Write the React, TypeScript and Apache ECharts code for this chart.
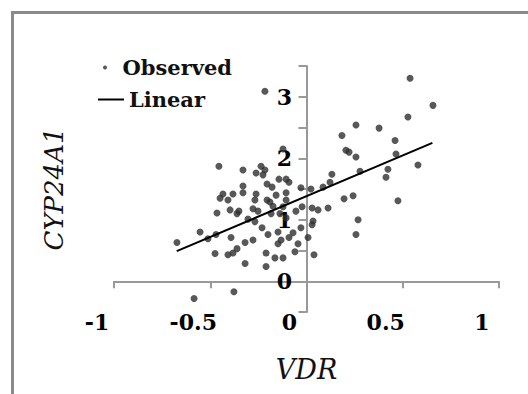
import React, { useEffect, useRef } from "react";
import * as echarts from "echarts";

const observedX: number[] = [
  -0.216, 0.538, 0.657, 0.527, 0.257, 0.377, 0.184, 0.46, -0.122, 0.205,
  0.221, 0.257, 0.465, -0.455, -0.33, -0.236, -0.216, -0.262, -0.226, 0.132,
  0.278, 0.579, 0.423, 0.413, 0.122, 0.086, -0.143, -0.106, -0.091, -0.33,
  -0.205, -0.179, -0.029, 0.023, -0.106, -0.434, -0.382, -0.33, -0.262, -0.158,
  0.242, 0.195, -0.449, -0.408, -0.268, -0.205, -0.19, -0.106, 0.475, -0.397,
  -0.351, -0.278, -0.252, -0.465, -0.361, -0.174, -0.122, -0.184, -0.055, -0.023,
  0.029, 0.06, 0.112, -0.138, -0.106, -0.304, -0.268, 0.034, 0.029, 0.268,
  -0.231, -0.553, -0.47, -0.512, -0.392, -0.278, -0.319, -0.2, -0.148, -0.091,
  -0.07, -0.029, 0.008, -0.132, -0.148, -0.044, 0.257, -0.673, -0.361, -0.382,
  -0.408, -0.475, -0.21, -0.06, 0.039, -0.164, -0.122, -0.319, -0.21, -0.377,
  -0.584,
];
const observedY: number[] = [
  3.09, 3.3, 2.86, 2.67, 2.54, 2.49, 2.37, 2.29, 2.15, 2.13,
  2.1, 2.02, 2.07, 1.87, 1.81, 1.87, 1.81, 1.76, 1.73, 1.74,
  1.79, 1.89, 1.82, 1.69, 1.61, 1.53, 1.66, 1.66, 1.61, 1.55,
  1.58, 1.53, 1.52, 1.5, 1.44, 1.42, 1.42, 1.44, 1.42, 1.4,
  1.39, 1.34, 1.35, 1.32, 1.32, 1.32, 1.29, 1.32, 1.31, 1.16,
  1.14, 1.18, 1.14, 1.11, 1.1, 1.22, 1.21, 1.1, 1.14, 1.21,
  1.19, 1.16, 1.19, 1.1, 1.03, 1.01, 0.97, 0.98, 0.92, 1.0,
  0.87, 0.8, 0.76, 0.69, 0.71, 0.67, 0.63, 0.76, 0.8, 0.71,
  0.79, 0.87, 0.71, 0.67, 0.61, 0.61, 0.76, 0.63, 0.53, 0.46,
  0.43, 0.45, 0.46, 0.48, 0.43, 0.38, 0.38, 0.29, 0.24, -0.17,
  -0.28,
];
const linearX: number[] = [-0.674, 0.654];
const linearY: number[] = [0.49, 2.25];
const yTickLabels: number[] = [0, 1, 2, 3];

export default function App() {
  const ref = useRef<HTMLDivElement>(null);
  useEffect(() => {
    if (!ref.current) return;
    const chart = echarts.init(ref.current, null, { renderer: "svg" });
    const scatterData = observedX.map((x, i) => [x, observedY[i]]);
    const lineData = linearX.map((x, i) => [x, linearY[i]]);
    const labelFont = {
      fontFamily: "DejaVu Serif",
      fontWeight: "bold" as const,
      fontSize: 22,
      color: "#000",
    };
    const legendText = {
      fontFamily: "DejaVu Serif",
      fontWeight: "bold" as const,
      fontSize: 21,
      color: "#111",
    };
    const titleFont = {
      fontFamily: "DejaVu Serif",
      fontStyle: "italic" as const,
      fontSize: 27,
      color: "#111",
    };
    chart.setOption({
      animation: false,
      backgroundColor: "#fff",
      graphic: [
        {
          type: "rect",
          left: 10,
          top: 10,
          shape: { width: 600, height: 600 },
          style: { fill: "none", stroke: "#8a8a8a", lineWidth: 3 },
          silent: true,
        },
      ],
      legend: [
        {
          data: [{ name: "Observed", icon: "circle" }],
          left: 103,
          top: 57,
          padding: 0,
          itemWidth: 25,
          itemHeight: 4,
          textStyle: legendText,
        },
        {
          data: [{ name: "Linear", icon: "rect", itemStyle: { color: "#000" } }],
          left: 98,
          top: 89,
          padding: 0,
          itemWidth: 26,
          itemHeight: 2,
          textStyle: legendText,
        },
      ],
      grid: {
        left: 114,
        right: 29,
        top: 66,
        bottom: 82,
        containLabel: false,
        outerBoundsMode: "none",
      },
      xAxis: {
        type: "value",
        min: -1,
        max: 1,
        interval: 0.5,
        name: "VDR",
        nameLocation: "middle",
        nameGap: 44,
        nameTextStyle: titleFont,
        splitLine: { show: false },
        axisLine: { onZero: true, lineStyle: { color: "#999", width: 2 } },
        axisTick: { show: true, length: 7, lineStyle: { color: "#999", width: 2 } },
        axisLabel: {
          ...labelFont,
          margin: -1,
          padding: [0, 34, 0, 0],
          formatter: (v: number) => String(v),
        },
      },
      yAxis: {
        type: "value",
        min: -0.5,
        max: 3.5,
        interval: 0.5,
        name: "CYP24A1",
        nameLocation: "middle",
        nameGap: 47,
        nameTextStyle: { ...titleFont, fontSize: 26 },
        splitLine: { show: false },
        axisLine: { show: true, onZero: true, lineStyle: { color: "#999", width: 2 } },
        axisTick: { show: true, length: 8, lineStyle: { color: "#999", width: 2 } },
        axisLabel: {
          ...labelFont,
          margin: -178,
          padding: [15, 0, 0, 0],
          formatter: (v: number) =>
            yTickLabels.indexOf(v) >= 0 ? String(v) : "",
        },
      },
      series: [
        {
          name: "Observed",
          type: "scatter",
          data: scatterData,
          symbolSize: 7,
          itemStyle: { color: "#2e2e2e" },
        },
        {
          name: "Linear",
          type: "line",
          data: lineData,
          showSymbol: false,
          symbol: "none",
          lineStyle: { color: "#000", width: 2 },
          itemStyle: { color: "#000" },
        },
      ],
    });
    return () => chart.dispose();
  }, []);
  return (
    <div
      ref={ref}
      style={{ position: "fixed", left: 0, top: 0, width: 528, height: 394 }}
    />
  );
}
